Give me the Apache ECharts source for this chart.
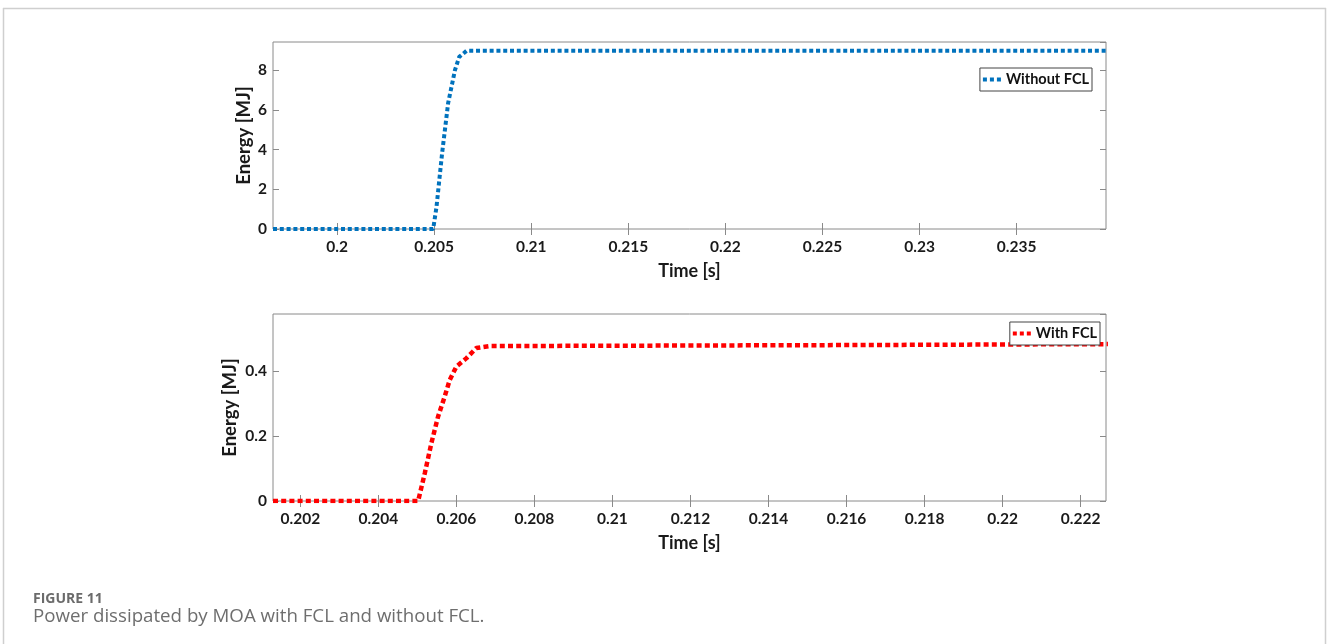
<!DOCTYPE html>
<html>
<head>
<meta charset="utf-8">
<script src="https://cdn.jsdelivr.net/npm/echarts@6/dist/echarts.min.js"></script>
<style>
html,body{margin:0;padding:0;background:#fff;}
#c{width:1327px;height:644px;}
</style>
</head>
<body>
<div id="c"></div>
<script>
// ---- data ----
const topTime   = [0.1967, 0.20495, 0.20512, 0.20541, 0.20572, 0.20607, 0.20629, 0.20667, 0.2396];
const topEnergy = [0, 0, 1.11, 3.82, 6.34, 7.99, 8.66, 8.97, 8.97];
const botTime   = [0.2013, 0.20502, 0.20519, 0.20536, 0.20553, 0.2057, 0.20583, 0.206, 0.20626, 0.20651, 0.20685, 0.210, 0.216, 0.2227];
const botEnergy = [0, 0, 0.085, 0.178, 0.259, 0.321, 0.372, 0.413, 0.439, 0.470, 0.476, 0.477, 0.479, 0.482];
const topXTicks = [0.2, 0.205, 0.21, 0.215, 0.22, 0.225, 0.23, 0.235];
const botXTicks = [0.202, 0.204, 0.206, 0.208, 0.21, 0.212, 0.214, 0.216, 0.218, 0.22, 0.222];
const topSeriesName = 'Without FCL';
const botSeriesName = 'With FCL';
const captionLabel = 'FIGURE 11';
const captionText = 'Power dissipated by MOA with FCL and without FCL.';

const FONT = 'Lato';
const axisColor = '#8a8a8a';
const labelColor = '#1a1a1a';
const fmt = v => String(+(+v).toFixed(4));
const dotsIcon = 'path://M0,0h4v4h-4z M7,0h4v4h-4z M14,0h4v4h-4z';

function pairs(xs, ys){ return xs.map((x,i)=>[x, ys[i]]); }

function xAxisPair(gi, min, max, ticks){
  return [{
    type:'value', gridIndex:gi, min:min, max:max, position:'bottom',
    axisLine:{show:false},
    axisTick:{show:true, inside:true, length:6, customValues:ticks, lineStyle:{color:axisColor}},
    axisLabel:{show:true, customValues:ticks, formatter:fmt, color:labelColor, fontFamily:FONT, fontWeight:'bold', fontSize:15.5, margin:10},
    splitLine:{show:false},
    name:'Time [s]', nameLocation:'middle', nameGap:33, nameMoveOverlap:false,
    nameTextStyle:{color:labelColor, fontFamily:FONT, fontWeight:'bold', fontSize:18}
  },{
    type:'value', gridIndex:gi, min:min, max:max, position:'top',
    axisLine:{show:false},
    axisTick:{show:true, inside:true, length:6, customValues:ticks, lineStyle:{color:axisColor}},
    axisLabel:{show:false}, splitLine:{show:false}
  }];
}
function yAxisPair(gi, max, interval, gap){
  return [{
    type:'value', gridIndex:gi, min:0, max:max, interval:interval, position:'left',
    axisLine:{show:false},
    axisTick:{show:true, inside:true, length:6, lineStyle:{color:axisColor}},
    axisLabel:{show:true, color:labelColor, fontFamily:FONT, fontWeight:'bold', fontSize:15.5, margin:6, showMaxLabel:false},
    splitLine:{show:false},
    name:'Energy [MJ]', nameLocation:'middle', nameGap:gap, nameMoveOverlap:false,
    nameTextStyle:{color:labelColor, fontFamily:FONT, fontWeight:'bold', fontSize:18.5}
  },{
    type:'value', gridIndex:gi, min:0, max:max, interval:interval, position:'right',
    axisLine:{show:false},
    axisTick:{show:true, inside:true, length:6, lineStyle:{color:axisColor}},
    axisLabel:{show:false}, splitLine:{show:false}
  }];
}
function legendCfg(name, right, top){
  return {data:[{name:name, icon:dotsIcon}], right:right, top:top, orient:'vertical',
    borderColor:'#444', borderWidth:1, backgroundColor:'#fff', padding:[4,3,4,3],
    itemWidth:18, itemHeight:4, itemGap:4,
    textStyle:{color:'#111', fontFamily:FONT, fontWeight:'bold', fontSize:14.5}};
}

const chart = echarts.init(document.getElementById('c'), null, {renderer:'canvas'});
const option = {
  backgroundColor:'#fff',
  animation:false,
  grid:[
    {left:273, top:42, width:833, height:187, show:true, borderColor:axisColor, borderWidth:1, backgroundColor:'transparent'},
    {left:273, top:314, width:833, height:187, show:true, borderColor:axisColor, borderWidth:1, backgroundColor:'transparent'}
  ],
  xAxis:[].concat(xAxisPair(0, 0.1967, 0.2396, topXTicks), xAxisPair(1, 0.2013, 0.22265, botXTicks)),
  yAxis:[].concat(yAxisPair(0, 9.41, 2, 19), yAxisPair(1, 0.5745, 0.2, 33)),
  legend:[legendCfg(topSeriesName, 235, 68), legendCfg(botSeriesName, 227, 322)],
  series:[
    {name:topSeriesName, type:'line', xAxisIndex:0, yAxisIndex:0, data:pairs(topTime, topEnergy),
     symbol:'none', showSymbol:false, color:'#0072BD',
     lineStyle:{color:'#0072BD', width:4, type:[4,2.8], cap:'butt'}},
    {name:botSeriesName, type:'line', xAxisIndex:2, yAxisIndex:2, data:pairs(botTime, botEnergy),
     symbol:'none', showSymbol:false, color:'#FF0000',
     lineStyle:{color:'#FF0000', width:4.5, type:[5,3.2], cap:'butt'}}
  ],
  graphic:[
    {type:'line', shape:{x1:3, y1:8.5, x2:1326, y2:8.5}, style:{stroke:'#cfcfcf', lineWidth:1.5}},
    {type:'line', shape:{x1:3.5, y1:8, x2:3.5, y2:644}, style:{stroke:'#cfcfcf', lineWidth:1.5}},
    {type:'line', shape:{x1:1325.5, y1:8, x2:1325.5, y2:644}, style:{stroke:'#cfcfcf', lineWidth:1.5}},
    {type:'text', left:33, top:592, style:{text:captionLabel, fill:'#6b6b6b', font:'bold 14px "Open Sans"'}},
    {type:'text', left:33, top:607, style:{text:captionText, fill:'#6e6e6e', font:'18.7px "Open Sans"'}}
  ]
};
chart.setOption(option);
</script>
</body>
</html>
